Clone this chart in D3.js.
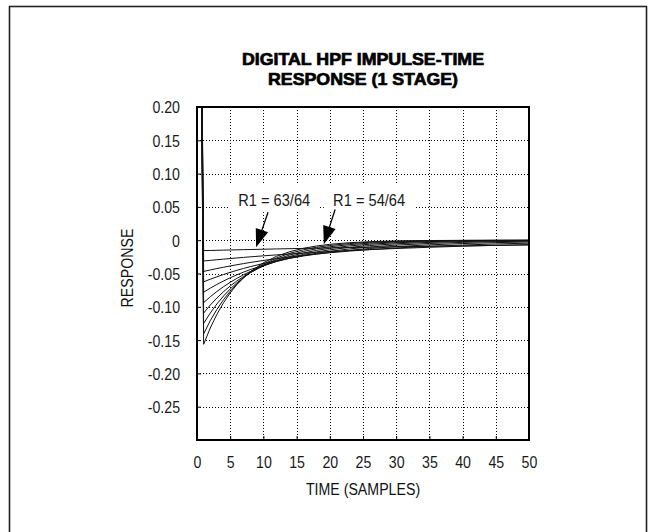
<!DOCTYPE html>
<html>
<head>
<meta charset="utf-8">
<script src="https://cdn.jsdelivr.net/npm/d3@7"></script>
<style>
  html, body { margin: 0; padding: 0; background: #fff; }
  svg { display: block; }
  text { font-family: "Liberation Sans", Arial, sans-serif; fill: #111; }
</style>
</head>
<body>
<svg id="chart" width="654" height="532"></svg>
<script>
// ---------------- data ----------------
const titleLines = ["DIGITAL HPF IMPULSE-TIME", "RESPONSE (1 STAGE)"];
const xTitle = "TIME (SAMPLES)";
const yTitle = "RESPONSE";
const xTicks = [0, 5, 10, 15, 20, 25, 30, 35, 40, 45, 50];
const xTickLabels = ["0", "5", "10", "15", "20", "25", "30", "35", "40", "45", "50"];
const yTicks = [0.20, 0.15, 0.10, 0.05, 0, -0.05, -0.10, -0.15, -0.20, -0.25];
const yTickLabels = ["0.20", "0.15", "0.10", "0.05", "0", "-0.05", "-0.10", "-0.15", "-0.20", "-0.25"];

// sample positions (time, samples)
const samples = [0, 1, 2, 3, 4, 5, 6, 7, 8, 10, 12, 14, 16, 18, 20, 23, 26, 30, 35, 40, 45, 50];
// responses, one curve for each R1 setting (value 1 at t = 0 is the impulse)
const resp63 = [1, -0.01563, -0.01538, -0.01514, -0.01490, -0.01467, -0.01444, -0.01422, -0.01399, -0.01356, -0.01314, -0.01273, -0.01234, -0.01195, -0.01158, -0.01105, -0.01054, -0.00990, -0.00915, -0.00845, -0.00781, -0.00722];
const resp62 = [1, -0.03125, -0.03027, -0.02933, -0.02841, -0.02752, -0.02666, -0.02583, -0.02502, -0.02348, -0.02204, -0.02068, -0.01941, -0.01822, -0.01709, -0.01554, -0.01413, -0.01245, -0.01062, -0.00906, -0.00773, -0.00660];
const resp61 = [1, -0.04688, -0.04468, -0.04258, -0.04059, -0.03868, -0.03687, -0.03514, -0.03350, -0.03043, -0.02764, -0.02511, -0.02281, -0.02072, -0.01883, -0.01630, -0.01411, -0.01165, -0.00916, -0.00721, -0.00567, -0.00446];
const resp60 = [1, -0.06250, -0.05859, -0.05493, -0.05150, -0.04828, -0.04526, -0.04243, -0.03978, -0.03496, -0.03073, -0.02701, -0.02374, -0.02086, -0.01834, -0.01511, -0.01245, -0.00962, -0.00697, -0.00504, -0.00365, -0.00265];
const resp59 = [1, -0.07813, -0.07202, -0.06639, -0.06121, -0.05643, -0.05202, -0.04795, -0.04421, -0.03757, -0.03193, -0.02713, -0.02306, -0.01960, -0.01665, -0.01305, -0.01022, -0.00738, -0.00492, -0.00327, -0.00218, -0.00145];
const resp58 = [1, -0.09375, -0.08496, -0.07700, -0.06978, -0.06324, -0.05731, -0.05193, -0.04707, -0.03865, -0.03175, -0.02607, -0.02141, -0.01759, -0.01444, -0.01075, -0.00800, -0.00540, -0.00330, -0.00202, -0.00123, -0.00075];
const resp57 = [1, -0.10938, -0.09741, -0.08676, -0.07727, -0.06882, -0.06129, -0.05459, -0.04862, -0.03856, -0.03059, -0.02426, -0.01925, -0.01527, -0.01211, -0.00855, -0.00604, -0.00380, -0.00213, -0.00119, -0.00067, -0.00037];
const resp56 = [1, -0.12500, -0.10938, -0.09570, -0.08374, -0.07327, -0.06411, -0.05610, -0.04909, -0.03758, -0.02877, -0.02203, -0.01687, -0.01291, -0.00989, -0.00662, -0.00444, -0.00260, -0.00133, -0.00068, -0.00035, -0.00018];
const resp55 = [1, -0.14063, -0.12085, -0.10386, -0.08925, -0.07670, -0.06591, -0.05664, -0.04868, -0.03595, -0.02655, -0.01961, -0.01448, -0.01069, -0.00790, -0.00501, -0.00318, -0.00174, -0.00081, -0.00038, -0.00018, -0.00008];
const resp54 = [1, -0.15625, -0.13184, -0.11124, -0.09386, -0.07919, -0.06682, -0.05638, -0.04757, -0.03386, -0.02411, -0.01716, -0.01222, -0.00870, -0.00619, -0.00372, -0.00223, -0.00113, -0.00048, -0.00021, -0.00009, -0.00004];
const seriesNames = ["63/64", "62/64", "61/64", "60/64", "59/64", "58/64", "57/64", "56/64", "55/64", "54/64"];
const seriesValues = [resp63, resp62, resp61, resp60, resp59, resp58, resp57, resp56, resp55, resp54];

// annotations: label, label anchor (data), arrow tail and tip (data)
const annoLabels = ["R1 = 63/64", "R1 = 54/64"];
const annoTextX = [6.2, 20.5];
const annoTextY = [0.051, 0.051];
const annoTailX = [10.7, 20.8];
const annoTailY = [0.042, 0.046];
const annoTipX = [8.9, 19.1];
const annoTipY = [-0.0105, -0.0060];
const annoBoxX0 = [4.8, 19.1];
const annoBoxX1 = [18.5, 32.7];
const annoBoxY0 = [0.085, 0.085];
const annoBoxY1 = [0.042, 0.042];

// ---------------- drawing ----------------
const svg = d3.select("#chart");
const W = 654, H = 532;
const pLeft = 197, pRight = 529, pTop = 107, pBottom = 440;
const SX = 0.86; // horizontal condensing of the light labels

const x = d3.scaleLinear().domain([0, 50]).range([pLeft, pRight]);
const y = d3.scaleLinear().domain([-0.30, 0.20]).range([pBottom, pTop]);

svg.append("rect").attr("width", W).attr("height", H).attr("fill", "#fff");

// outer border (open at the bottom of the picture)
svg.append("rect")
  .attr("x", 9.5).attr("y", 6.5).attr("width", 637).attr("height", 600)
  .attr("fill", "none").attr("stroke", "#222").attr("stroke-width", 1.6);

// title
titleLines.forEach((t, i) => {
  svg.append("text")
    .attr("x", (pLeft + pRight) / 2).attr("y", 65 + i * 20)
    .attr("text-anchor", "middle")
    .attr("font-size", 17).attr("font-weight", 900)
    .attr("textLength", i === 0 ? 242 : 190)
    .attr("lengthAdjust", "spacingAndGlyphs")
    .attr("stroke", "#000").attr("stroke-width", 0.7)
    .style("fill", "#000")
    .text(t);
});

// grid
const grid = svg.append("g").attr("stroke", "#000").attr("stroke-width", 1)
  .attr("stroke-dasharray", "1,2");
xTicks.filter(v => v > 0 && v < 50).forEach(v => {
  grid.append("line").attr("x1", Math.round(x(v)) + 0.5).attr("x2", Math.round(x(v)) + 0.5)
    .attr("y1", pTop).attr("y2", pBottom);
});
yTicks.filter(v => v < 0.2).forEach(v => {
  grid.append("line").attr("y1", Math.round(y(v)) + 0.5).attr("y2", Math.round(y(v)) + 0.5)
    .attr("x1", pLeft).attr("x2", pRight);
});

// white label boxes that break the grid
annoLabels.forEach((_, i) => {
  svg.append("rect")
    .attr("x", x(annoBoxX0[i])).attr("y", y(annoBoxY0[i]))
    .attr("width", x(annoBoxX1[i]) - x(annoBoxX0[i]))
    .attr("height", y(annoBoxY1[i]) - y(annoBoxY0[i]))
    .attr("fill", "#fff");
});

// axes (ticks inside the frame)
const yAxis = d3.axisLeft(y).tickValues(yTicks)
  .tickFormat((d, i) => yTickLabels[i]).tickSizeInner(-4).tickSizeOuter(0).tickPadding(17 / SX);
const gy = svg.append("g").attr("transform", `translate(${pLeft},0)`).call(yAxis);
gy.select(".domain").remove();
gy.selectAll(".tick line").attr("stroke", "#000").attr("stroke-width", 1);
gy.selectAll(".tick text")
  .attr("font-size", 16.5).attr("font-family", "Liberation Sans, Arial, sans-serif")
  .attr("dy", "0.36em")
  .attr("transform", `scale(${SX},1)`)
  .style("fill", "#1a1a1a");

const xAxis = d3.axisBottom(x).tickValues(xTicks)
  .tickFormat((d, i) => xTickLabels[i]).tickSizeInner(-4).tickSizeOuter(0).tickPadding(16);
const gx = svg.append("g").attr("transform", `translate(0,${pBottom})`).call(xAxis);
gx.select(".domain").remove();
gx.selectAll(".tick line").attr("stroke", "#000").attr("stroke-width", 1);
gx.selectAll(".tick text")
  .attr("font-size", 16.5).attr("font-family", "Liberation Sans, Arial, sans-serif")
  .attr("y", 0).attr("dy", 0)
  .attr("transform", `translate(0,28) scale(${SX},1)`)
  .style("fill", "#1a1a1a");

// curves
svg.append("clipPath").attr("id", "plotclip").append("rect")
  .attr("x", pLeft).attr("y", pTop).attr("width", pRight - pLeft).attr("height", pBottom - pTop);
const line = d3.line().x(d => x(d[0])).y(d => y(d[1]));
const curves = svg.append("g").attr("clip-path", "url(#plotclip)");
seriesValues.forEach((vals, i) => {
  curves.append("path")
    .datum(samples.map((t, j) => [t, vals[j]]))
    .attr("d", line)
    .attr("fill", "none").attr("stroke", "#111").attr("stroke-width", 1)
    .attr("data-name", seriesNames[i]);
});

// frame
svg.append("rect")
  .attr("x", pLeft).attr("y", pTop).attr("width", pRight - pLeft).attr("height", pBottom - pTop)
  .attr("fill", "none").attr("stroke", "#000").attr("stroke-width", 2);

// annotations
annoLabels.forEach((lab, i) => {
  svg.append("text")
    .attr("x", x(annoTextX[i])).attr("y", y(annoTextY[i]))
    .attr("font-size", 16).attr("textLength", 72).attr("lengthAdjust", "spacingAndGlyphs")
    .style("fill", "#1a1a1a")
    .text(lab);
  const x1 = x(annoTailX[i]), y1 = y(annoTailY[i]);
  const x2 = x(annoTipX[i]), y2 = y(annoTipY[i]);
  const dx = x2 - x1, dy = y2 - y1, L = Math.hypot(dx, dy);
  const ux = dx / L, uy = dy / L;
  const headL = 18, headW = 6.5;
  const bx = x2 - ux * headL, by = y2 - uy * headL;
  svg.append("line").attr("x1", x1).attr("y1", y1).attr("x2", bx).attr("y2", by)
    .attr("stroke", "#000").attr("stroke-width", 1.3);
  svg.append("path")
    .attr("d", `M${x2},${y2}L${bx - uy * headW},${by + ux * headW}L${bx + uy * headW},${by - ux * headW}Z`)
    .attr("fill", "#000");
});

// axis titles
svg.append("text")
  .attr("transform", `translate(${(pLeft + pRight) / 2},495) scale(${SX},1)`)
  .attr("text-anchor", "middle").attr("font-size", 16.5)
  .text(xTitle);
svg.append("text")
  .attr("transform", `translate(133,268) rotate(-90) scale(${SX},1)`)
  .attr("text-anchor", "middle").attr("font-size", 16.5)
  .text(yTitle);
</script>
</body>
</html>
